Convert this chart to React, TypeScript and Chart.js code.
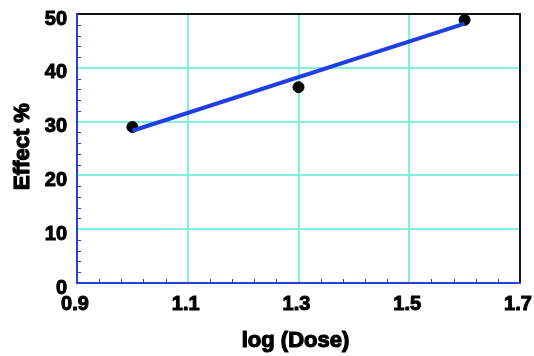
import React, { useEffect, useRef } from "react";
import { Chart, registerables } from "chart.js";

Chart.register(...registerables);

const doseLog = [1.0, 1.3, 1.6];
const effect = [29.0, 36.4, 48.9];
const fitX = [1.0, 1.6];
const fitY = [28.3, 48.2];
const xTicks = [0.9, 1.1, 1.3, 1.5, 1.7];
const yTicks = [0, 10, 20, 30, 40, 50];
const xTitle = "log (Dose)";
const yTitle = "Effect %";

const FONT = "'Liberation Sans', Arial, sans-serif";
const GRID = "rgb(130,242,222)";
const AXIS_BLUE = "#2342d8";

const framePlugin = {
  id: "frame",
  afterDraw(chart: any) {
    const { ctx, chartArea } = chart;
    const { left, right, top, bottom } = chartArea;
    const xs = chart.scales.x;
    const ys = chart.scales.y;
    ctx.save();
    // minor ticks
    ctx.strokeStyle = AXIS_BLUE;
    ctx.lineWidth = 1;
    for (let i = 1; i < 25; i++) {
      if (i % 5 === 0) continue;
      const py = Math.round(ys.getPixelForValue(i * 2)) + 0.5;
      ctx.beginPath();
      ctx.moveTo(left, py);
      ctx.lineTo(left + 4, py);
      ctx.stroke();
    }
    for (let i = 1; i < 20; i++) {
      if (i % 5 === 0) continue;
      const px = Math.round(xs.getPixelForValue(0.9 + i * 0.04)) + 0.5;
      ctx.beginPath();
      ctx.moveTo(px, bottom);
      ctx.lineTo(px, bottom - 4);
      ctx.stroke();
    }
    // top and right borders
    ctx.strokeStyle = "#111";
    ctx.lineWidth = 2;
    ctx.beginPath();
    ctx.moveTo(left, top);
    ctx.lineTo(right, top);
    ctx.lineTo(right, bottom);
    ctx.stroke();
    // left and bottom axes
    ctx.strokeStyle = AXIS_BLUE;
    ctx.lineWidth = 2;
    ctx.beginPath();
    ctx.moveTo(left, top - 1);
    ctx.lineTo(left, bottom);
    ctx.lineTo(right + 1, bottom);
    ctx.stroke();
    // axis titles
    ctx.fillStyle = "#000";
    ctx.strokeStyle = "#000";
    ctx.lineWidth = 1.2;
    ctx.lineJoin = "round";
    ctx.font = `bold 22px ${FONT}`;
    ctx.textAlign = "center";
    ctx.textBaseline = "middle";
    const cx = (left + right) / 2 - 3;
    ctx.fillText(xTitle, cx, 341);
    ctx.strokeText(xTitle, cx, 341);
    ctx.translate(23, (top + bottom) / 2 - 2);
    ctx.rotate(-Math.PI / 2);
    ctx.fillText(yTitle, 0, 0);
    ctx.strokeText(yTitle, 0, 0);
    ctx.restore();
  },
};

export default function App() {
  const ref = useRef<HTMLCanvasElement>(null);
  useEffect(() => {
    const canvas = ref.current!;
    const chart = new Chart(canvas, {
      type: "scatter",
      data: {
        datasets: [
          {
            type: "line",
            data: fitX.map((x, i) => ({ x, y: fitY[i] })),
            borderColor: "#1f3fe0",
            borderWidth: 4,
            pointRadius: 0,
            fill: false,
          } as any,
          {
            type: "scatter",
            data: doseLog.map((x, i) => ({ x, y: effect[i] })),
            backgroundColor: "#000",
            borderColor: "#000",
            pointRadius: 5.5,
          },
        ],
      },
      options: {
        responsive: false,
        animation: false,
        events: [],
        layout: { padding: { top: 14, right: 14, left: 0, bottom: 0 } },
        plugins: { legend: { display: false }, tooltip: { enabled: false } },
        scales: {
          x: {
            type: "linear",
            min: 0.9,
            max: 1.7,
            afterBuildTicks: (s: any) => {
              s.ticks = xTicks.map((v) => ({ value: v }));
            },
            afterFit: (s: any) => {
              s.height = 73;
              s.paddingLeft = 0;
              s.paddingRight = 0;
            },
            border: { display: false },
            grid: {
              color: GRID,
              lineWidth: 2,
              drawTicks: false,
            },
            ticks: {
              padding: 9,
              labelOffset: -2,
              color: "#000",
              textStrokeColor: "#000",
              textStrokeWidth: 1,
              maxRotation: 0,
              font: { family: FONT, size: 20, weight: "bold" },
              callback: (v: any) => Number(v).toFixed(1),
            },
            title: { display: false },
          },
          y: {
            type: "linear",
            min: 0,
            max: 50,
            afterBuildTicks: (s: any) => {
              s.ticks = yTicks.map((v) => ({ value: v }));
            },
            afterFit: (s: any) => {
              s.width = 77;
              s.paddingTop = 0;
              s.paddingBottom = 0;
            },
            border: { display: false },
            grid: {
              color: GRID,
              lineWidth: 2,
              drawTicks: false,
            },
            ticks: {
              padding: 10,
              labelOffset: 5,
              color: "#000",
              textStrokeColor: "#000",
              textStrokeWidth: 1,
              font: { family: FONT, size: 20, weight: "bold" },
            },
            title: { display: false },
          },
        },
      },
      plugins: [framePlugin],
    });
    return () => chart.destroy();
  }, []);
  return (
    <div style={{ position: "fixed", left: 0, top: 0, width: 534, height: 356, background: "#fff" }}>
      <canvas ref={ref} width={534} height={356} />
    </div>
  );
}
